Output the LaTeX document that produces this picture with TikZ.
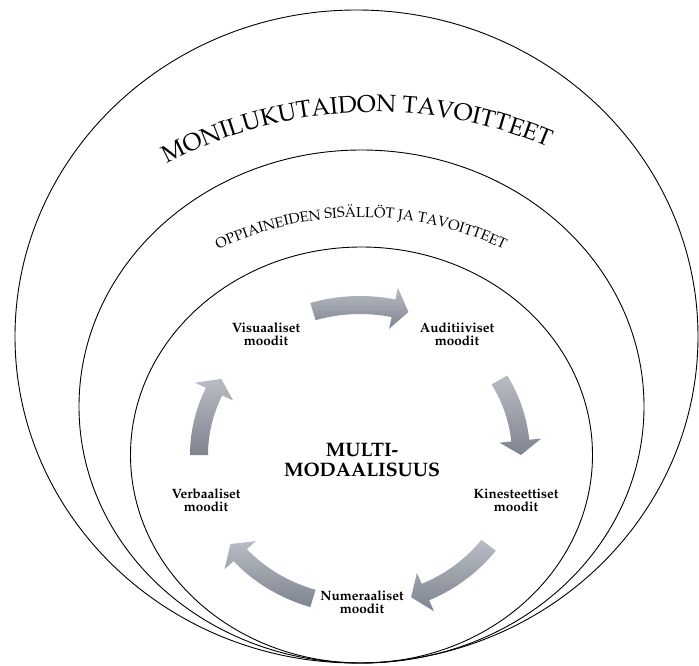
\documentclass[tikz,border=0pt]{standalone}
\usepackage[T1]{fontenc}
\usepackage{mathpazo}
\definecolor{arrtop}{RGB}{184,188,196}
\definecolor{arrbot}{RGB}{126,132,143}
\newcommand\bigtxt{\fontsize{24}{24}\selectfont}
\newcommand\midtxt{\fontsize{14.5}{14.5}\selectfont}
\newlength\chw
\newlength\totw
\tikzset{
  ring/.style={draw=black, line width=0.9pt},
  lbl/.style={align=center, inner sep=0pt, font=\fontsize{13.5}{12.8}\selectfont\bfseries},
  letter/.style={anchor=base, inner sep=0pt},
  arrowshade/.style={top color=arrtop, bottom color=arrbot, draw=none}
}
\newcommand\measurech[2]{%
  \pgfinterruptpicture\settowidth\chw{#1#2}\global\chw=\chw\endpgfinterruptpicture}
% #1 cx, #2 cy, #3 radius, #4 middle angle, #5 font, #6 letters
\newcommand\arctext[6]{%
  \global\totw=0pt
  \foreach \ch in {#6}{\measurech{#5}{\ch}\global\advance\totw by \chw}%
  \pgfmathsetmacro\curang{#4 + \totw/(2*#3)*57.29578}%
  \xdef\curang{\curang}%
  \foreach \ch in {#6}{%
    \measurech{#5}{\ch}%
    \pgfmathsetmacro\aa{\curang - \chw/(2*#3)*57.29578}%
    \node[letter, rotate=\aa-90, font=#5] at ({#1+#3*cos(\aa)},{#2+#3*sin(\aa)}) {\ch};
    \pgfmathsetmacro\nn{\curang - \chw/#3*57.29578}%
    \xdef\curang{\nn}%
  }%
}
\newcommand\cyarrow[2]{%
  \pgfmathsetmacro\hb{#2+5.5}%
  \shade[arrowshade] ({360+170*cos(#1)},{210+159*sin(#1)})
    arc[start angle=#1, end angle=\hb, x radius=170, y radius=159]
    -- ({360+182*cos(\hb)},{210+171*sin(\hb)})
    -- ({360+161*cos(#2)},{210+150*sin(#2)})
    -- ({360+140*cos(\hb)},{210+129*sin(\hb)})
    -- ({360+152*cos(\hb)},{210+141*sin(\hb)})
    arc[start angle=\hb, end angle=#1, x radius=152, y radius=141] -- cycle;}
\begin{document}
\begin{tikzpicture}[x=1pt,y=1pt]
\useasboundingbox (0,0) rectangle (699,665);
\fill[white] (0,0) rectangle (699,665);
% rings
\draw[ring] (356.5,328.5) ellipse[x radius=341.5, y radius=326.5];
\draw[ring] (361.5,258.5) ellipse[x radius=282.5, y radius=256.5];
\draw[ring] (361.5,210) ellipse[x radius=231, y radius=208];
% curved titles
\arctext{375}{110}{443}{92.5}{\bigtxt}{M,O,N,I,L,U,K,U,T,A,I,D,O,N,{\ },T,A,V,O,I,T,T,E,E,T}
\arctext{361}{117.3}{330.7}{90}{\midtxt}{O,P,P,I,A,I,N,E,I,D,E,N,{\ },S,I,S,{\"A},L,L,{\"O},T,{\ },J,A,{\ },T,A,V,O,I,T,T,E,E,T}
% cycle arrows
\cyarrow{107}{72.5}
\cyarrow{30}{0}
\cyarrow{-37}{-71.5}
\cyarrow{-107}{-143.6}
\cyarrow{180}{149.5}
% labels
\node[lbl] (vis) at (266,331) {Visuaaliset\\moodit};
\node[lbl] (aud) at (457,331) {Auditiiviset\\moodit};
\node[lbl] (kin) at (516,165) {Kinesteettiset\\moodit};
\node[lbl] (num) at (362,63) {Numeraaliset\\moodit};
\node[lbl] (ver) at (206,165) {Verbaaliset\\moodit};
\node[align=center, inner sep=0pt, font=\fontsize{19.5}{20}\selectfont\bfseries] (mm) at (362,205) {MULTI-\\MODAALISUUS};
\end{tikzpicture}
\end{document}
